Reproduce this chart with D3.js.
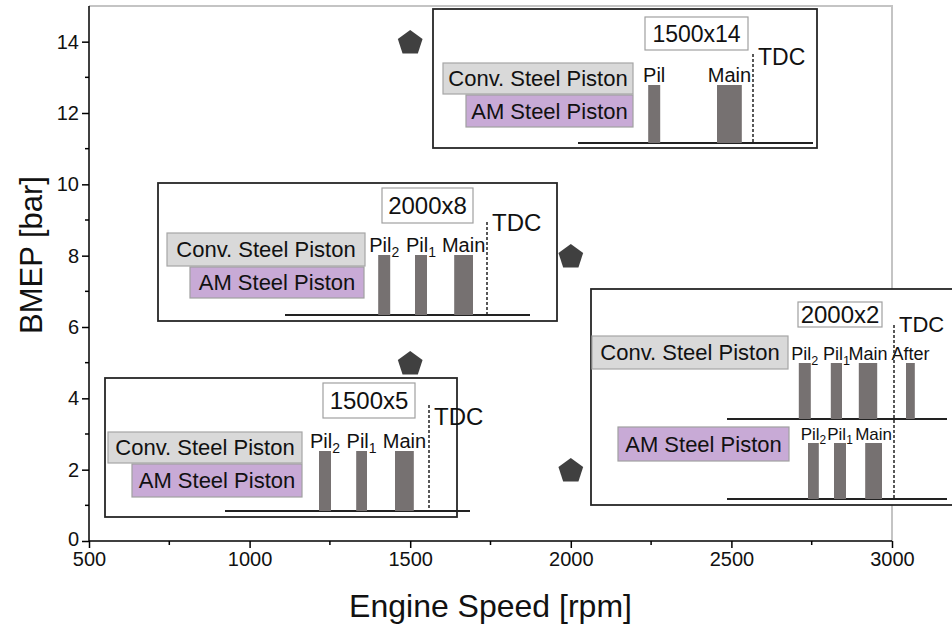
<!DOCTYPE html>
<html>
<head>
<meta charset="utf-8">
<script src="https://cdn.jsdelivr.net/npm/d3@7"></script>
<style>
  body { margin: 0; background: #fff; }
  svg text { font-family: "Liberation Sans", Arial, sans-serif; }
</style>
</head>
<body>
<div id="chart"></div>
<script>
// operating points
const speeds = [1500, 2000, 1500, 2000];
const bmeps = [14, 8, 5, 2];
const xTicks = [500, 1000, 1500, 2000, 2500, 3000];
const yTicks = [0, 2, 4, 6, 8, 10, 12, 14];
const xMinor = [750, 1250, 1750, 2250, 2750];
const yMinor = [1, 3, 5, 7, 9, 11, 13];

// injection pulses, crank angle deg relative to TDC: [label, subscript, start, end]
const pulses1500x14 = [["Pil", "", -26.2, -23.2], ["Main", "", -9, -2.8]];
const pulses2000x8 = [["Pil", "2", -27.2, -24.2], ["Pil", "1", -18, -15], ["Main", "", -8.2, -3.5]];
const pulses2000x2conv = [["Pil", "2", -23.8, -20.8], ["Pil", "1", -15.8, -13], ["Main", "", -8.8, -4.2], ["After", "", 3, 5.2]];
const pulses2000x2am = [["Pil", "2", -21.5, -18.8], ["Pil", "1", -15, -12], ["Main", "", -7.2, -3]];
const pulses1500x5 = [["Pil", "2", -27.5, -24.5], ["Pil", "1", -18.2, -15.5], ["Main", "", -8.5, -3.8]];

const width = 952, height = 629;
const margin = {top: 6, right: 60, bottom: 88, left: 89};

const svg = d3.select('#chart').append('svg')
  .attr('width', width)
  .attr('height', height)

const x = d3.scaleLinear().domain([500, 3000]).range([margin.left, width - margin.right])
const y = d3.scaleLinear().domain([0, 15]).range([height - margin.bottom, margin.top])

// top/right frame
svg.append('path')
  .attr('d', `M${x(500)},${y(15)}H${x(3000)}V${y(0)}`)
  .attr('fill', 'none')
  .attr('stroke', '#c4c4c4')
  .attr('stroke-width', 2)

const xAxis = svg.append('g')
  .attr('transform', `translate(0, ${y(0)})`)
  .call(d3.axisBottom(x).tickValues(xTicks).tickFormat(d3.format('d')).tickSize(7).tickSizeOuter(0).tickPadding(4))
xAxis.selectAll('.minor').data(xMinor).enter().append('line')
  .attr('x1', d => x(d)).attr('x2', d => x(d))
  .attr('y1', 0).attr('y2', 4)

const yAxis = svg.append('g')
  .attr('transform', `translate(${x(500)}, 0)`)
  .call(d3.axisLeft(y).tickValues(yTicks).tickSize(7).tickSizeOuter(0).tickPadding(3))
yAxis.selectAll('.minor').data(yMinor).enter().append('line')
  .attr('y1', d => y(d)).attr('y2', d => y(d))
  .attr('x1', 0).attr('x2', -4)

svg.selectAll('.domain').attr('d', null)
xAxis.append('line').attr('x1', x(500)).attr('x2', x(3000))
yAxis.append('line').attr('y1', y(0)).attr('y2', y(15))
svg.selectAll('line').attr('stroke', '#000').attr('stroke-width', 1.5)
svg.selectAll('.tick text').attr('font-size', 20).attr('fill', '#111')
// keep the "0" label clear of the "500" label
yAxis.selectAll('.tick text').filter(d => d === 0).attr('dy', '0.2em')

svg.append('text')
  .attr('x', (x(500) + x(3000)) / 2)
  .attr('y', 617)
  .attr('text-anchor', 'middle')
  .attr('font-size', 32)
  .attr('fill', '#111')
  .text('Engine Speed [rpm]')

svg.append('text')
  .attr('transform', `translate(42, 255) rotate(-90)`)
  .attr('text-anchor', 'middle')
  .attr('font-size', 31)
  .attr('fill', '#111')
  .text('BMEP [bar]')

// insets (pixel layout)
const insets = [
  {title: '1500x14', box: [433, 9, 817, 148], tbox: [645, 17, 748, 50], tdc: 753, dashTop: 54, dashBot: 143,
   tdcY: 65, tdcFont: 23, conv: [443, 63, 633, 94], am: [466, 95, 633, 127],
   rows: [{pulses: pulses1500x14, base: 143, h: 58, line: [578, 813], font: 20}]},
  {title: '2000x8', box: [158, 183, 557, 321], tbox: [382, 188, 473, 223], tdc: 487, dashTop: 222, dashBot: 315,
   tdcY: 231, tdcFont: 24, conv: [167, 233, 365, 266], am: [190, 267, 364, 298],
   rows: [{pulses: pulses2000x8, base: 315, h: 60, line: [285, 530], font: 20}]},
  {title: '2000x2', box: [591, 289, 962, 505], tbox: [798, 302, 882, 327], tdc: 894, dashTop: 325, dashBot: 500,
   tdcY: 332, tdcFont: 22, conv: [592, 336, 788, 369], am: [618, 427, 789, 461],
   rows: [{pulses: pulses2000x2conv, base: 419, h: 56, line: [727, 947], font: 18},
          {pulses: pulses2000x2am, base: 499, h: 56, line: [727, 947], font: 17}]},
  {title: '1500x5', box: [105, 378, 457, 517], tbox: [323, 383, 415, 418], tdc: 429, dashTop: 405, dashBot: 511,
   tdcY: 425, tdcFont: 24, conv: [108, 432, 302, 463], am: [132, 464, 302, 497],
   rows: [{pulses: pulses1500x5, base: 511, h: 60, line: [225, 470], font: 20}]}
]

function labelBox(g, b, fill, stroke, txt, size) {
  g.append('rect')
    .attr('x', b[0]).attr('y', b[1])
    .attr('width', b[2] - b[0]).attr('height', b[3] - b[1])
    .attr('fill', fill).attr('stroke', stroke).attr('stroke-width', 1.2)
  g.append('text')
    .attr('x', (b[0] + b[2]) / 2).attr('y', (b[1] + b[3]) / 2)
    .attr('dy', '0.36em')
    .attr('text-anchor', 'middle')
    .attr('font-size', size)
    .attr('fill', '#111')
    .text(txt)
}

insets.forEach(ins => {
  const g = svg.append('g')
  g.append('rect')
    .attr('x', ins.box[0]).attr('y', ins.box[1])
    .attr('width', ins.box[2] - ins.box[0]).attr('height', ins.box[3] - ins.box[1])
    .attr('fill', '#fff').attr('stroke', '#262626').attr('stroke-width', 1.8)

  labelBox(g, ins.tbox, '#fff', '#a0a0a0', ins.title, ins.title.length > 6 ? 23 : 24)
  labelBox(g, ins.conv, '#d9d9d9', '#a6a6a6', 'Conv. Steel Piston', 22)
  labelBox(g, ins.am, '#c8aad6', '#a0a0a0', 'AM Steel Piston', 22)

  const ca = d3.scaleLinear().domain([0, 1]).range([ins.tdc, ins.tdc + 4])

  ins.rows.forEach(row => {
    g.append('line')
      .attr('x1', row.line[0]).attr('x2', row.line[1])
      .attr('y1', row.base).attr('y2', row.base)
      .attr('stroke', '#222').attr('stroke-width', 1.8)

    g.selectAll(null).data(row.pulses).enter().append('rect')
      .attr('x', d => ca(d[2]))
      .attr('width', d => ca(d[3]) - ca(d[2]))
      .attr('y', row.base - row.h)
      .attr('height', row.h)
      .attr('fill', '#767171')

    const lbl = g.selectAll(null).data(row.pulses).enter().append('text')
      .attr('x', d => (ca(d[2]) + ca(d[3])) / 2)
      .attr('y', row.base - row.h - 3)
      .attr('text-anchor', 'middle')
      .attr('font-size', row.font)
      .attr('fill', '#111')
    lbl.append('tspan').text(d => d[0])
    lbl.filter(d => d[1]).append('tspan')
      .attr('font-size', row.font * 0.7)
      .attr('dy', row.font * 0.25)
      .text(d => d[1])
  })

  g.append('line')
    .attr('x1', ins.tdc).attr('x2', ins.tdc)
    .attr('y1', ins.dashTop).attr('y2', ins.dashBot)
    .attr('stroke', '#222').attr('stroke-width', 1.5)
    .attr('stroke-dasharray', '3,2')

  g.append('text')
    .attr('x', ins.tdc + 5).attr('y', ins.tdcY)
    .attr('font-size', ins.tdcFont)
    .attr('fill', '#111')
    .text('TDC')
})

// pentagon markers
const pentagon = {
  draw(ctx, size) {
    const r = Math.sqrt(size / 2.378)
    const off = r * (1 - Math.cos(Math.PI / 5)) / 2
    for (let i = 0; i < 5; i++) {
      const a = -Math.PI / 2 + i * 2 * Math.PI / 5
      const px = r * Math.cos(a), py = r * Math.sin(a) + off
      if (i === 0) ctx.moveTo(px, py)
      else ctx.lineTo(px, py)
    }
    ctx.closePath()
  }
}

svg.selectAll('.pt').data(speeds).enter().append('path')
  .attr('class', 'pt')
  .attr('transform', (d, i) => `translate(${x(d)}, ${y(bmeps[i])})`)
  .attr('d', d3.symbol().type(pentagon).size(2.378 * 13 * 13))
  .attr('fill', '#404040')
</script>
</body>
</html>
